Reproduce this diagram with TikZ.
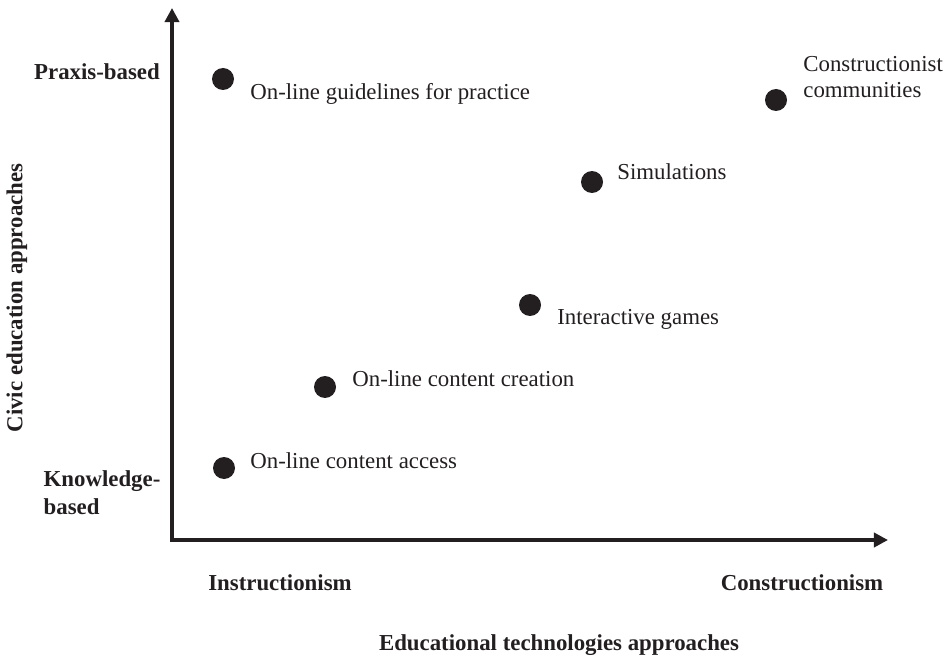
\documentclass[tikz,border=0pt]{standalone}
\usepackage{fontspec}
\setmainfont{Liberation Serif}
\usetikzlibrary{arrows.meta}
\definecolor{ink}{HTML}{231F20}

\begin{document}
\begin{tikzpicture}[x=0.02cm, y=-0.02cm, every node/.style={text=ink, font=\fontsize{13}{15}\selectfont},
  dot/.style={circle, fill=ink, inner sep=0pt, minimum size=0.44cm},
  item/.style={anchor=west, align=left, inner sep=0pt},
  head/.style={font=\fontsize{13}{16}\selectfont\bfseries, inner sep=0pt},
  axis/.style={ink, line width=2.5pt, line cap=rect, -{Triangle[length=8pt, width=8pt]}}]
  \useasboundingbox (0,0) rectangle (945,658);

  % axes
  \coordinate (O) at (172,540);
  \coordinate (ytop) at (172,8);
  \coordinate (xend) at (888,540);
  \draw[axis] (O) -- (ytop);
  \draw[axis] (O) -- (xend);

  % axis labels
  \node[head] (praxis) at (97,72) {Praxis-based};
  \node[head, align=left] (knowledge) at (102,493) {Knowledge-\\based};
  \node[head] (instr) at (280,583) {Instructionism};
  \node[head] (constr) at (802,583) {Constructionism};
  \node[head] (xlabel) at (559,645) {Educational technologies approaches};
  \node[head, rotate=90] (ylabel) at (17,298) {Civic education approaches};

  % points
  \node[dot] (guide) at (223,79) {};
  \node[dot] (comm) at (776,100) {};
  \node[dot] (sim) at (592,182) {};
  \node[dot] (games) at (530,305) {};
  \node[dot] (create) at (325,387) {};
  \node[dot] (access) at (224,468) {};

  \node[item] (guideL) at (250,94) {On-line guidelines for practice};
  \node[item] (commL) at (803,77) {Constructionist\\communities};
  \node[item] (simL) at (617,172) {Simulations};
  \node[item] (gamesL) at (557,319) {Interactive games};
  \node[item] (createL) at (352,379) {On-line content creation};
  \node[item] (accessL) at (250,461) {On-line content access};
\end{tikzpicture}
\end{document}
